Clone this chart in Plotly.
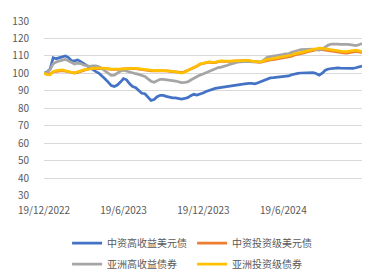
import plotly.graph_objects as go
import pandas as pd

start_date = "2022-12-19"
n_weeks = 105
dates = pd.date_range(start_date, periods=n_weeks, freq="7D")

series_names = ["中资高收益美元债", "中资投资级美元债", "亚洲高收益债券", "亚洲投资级债券"]
series_colors = ["#4472C4", "#ED7D31", "#A5A5A5", "#FFC000"]

cn_hy = [100, 100.8, 102.5, 109, 108.4, 109, 109.5, 110, 109, 107.2,
         107.2, 107.7, 106.7, 105.5, 104.3, 103, 102, 101, 100, 98.6,
         96.8, 95, 93, 92.5, 93.3, 95, 97, 96.3, 94, 92.5,
         91.8, 90.2, 88.6, 88.3, 86.3, 84.5, 85, 86.6, 87.4, 87.4,
         86.8, 86.2, 86, 85.9, 85.5, 85.3, 85.6, 86.1, 87.2, 88,
         87.6, 88, 88.7, 89.6, 90.3, 90.8, 91.4, 91.7, 92, 92.3,
         92.7, 93, 93.4, 93.5, 93.6, 93.8, 94.2, 94.3, 94.2, 94,
         94.6, 95.3, 96.2, 97, 97.4, 97.5, 97.7, 98, 98.1, 98.3,
         98.5, 99.2, 99.7, 100, 100.2, 100.3, 100.5, 100.3, 100.4, 99.9,
         99, 100.1, 101.8, 102.5, 102.8, 103, 103.1, 103, 102.9, 102.8,
         102.6, 102.8, 103.2, 103.7, 104.2]

cn_ig = [100, 99.6, 99.8, 100.8, 101.2, 101.4, 101.5, 101.3, 100.9, 100.4,
         100.2, 100.6, 101.3, 101.9, 102.3, 102.7, 102.8, 102.9, 103, 102.9,
         102.7, 102.4, 102.3, 102.3, 102.2, 102.3, 102.5, 102.7, 102.7, 102.8,
         102.7, 102.4, 102.0, 101.8, 101.6, 101.4, 101.4, 101.5, 101.5, 101.5,
         101.4, 101.2, 101.0, 100.8, 100.6, 100.5, 100.9, 101.7, 102.3, 103.1,
         104.1, 105.2, 105.7, 106.1, 106.4, 106.2, 106.1, 106.7, 107.0, 106.8,
         106.6, 106.8, 107.0, 107.1, 107.3, 107.4, 107.5, 107.3, 106.8, 106.4,
         106.4, 106.4, 106.9, 107.5, 107.7, 107.9, 108.2, 108.5, 108.6, 108.9,
         109.2, 109.9, 110.6, 110.9, 111.3, 111.7, 112.3, 112.6, 113.0, 113.4,
         113.8, 113.6, 113.3, 112.9, 112.5, 112.2, 112.0, 111.8, 111.7, 111.6,
         111.8, 112.4, 112.6, 112.3, 111.9]

asia_hy = [100, 100.5, 102.2, 105.5, 106.5, 107.2, 107.6, 108, 107.2, 106.2,
           105.4, 105.8, 105.6, 104.8, 104.4, 104, 104.3, 104.3, 103.8, 102.6,
           101.6, 100, 98.8, 99, 100.1, 101.3, 101.8, 101.2, 100.8, 100.4,
           99.8, 99.4, 99, 98.2, 96.8, 95.5, 94.9, 96, 96.6, 96.5,
           96.4, 96.1, 95.8, 95.6, 95.2, 94.7, 94.8, 95.1, 96.2, 97.3,
           98.1, 99, 99.6, 100.4, 101.1, 101.8, 102.6, 103.3, 103.6, 104,
           104.6, 105.3, 105.9, 106.3, 106.6, 106.8, 107, 106.8, 106.6, 106.6,
           106.5, 106.6, 107.8, 109.2, 109.6, 110, 110.3, 110.5, 110.8, 111.1,
           111.2, 112, 112.7, 113.1, 113.6, 113.7, 113.9, 114.1, 113.9, 113.6,
           113.3, 114, 115.3, 116.2, 116.8, 116.9, 116.8, 116.6, 116.8, 116.6,
           116.4, 116, 115.9, 116.4, 117.1]

asia_ig = [100, 99.3, 99.2, 101, 101.6, 101.8, 102, 101.5, 100.9, 100.5,
           100.3, 100.7, 101.4, 102, 102.4, 102.8, 102.9, 103, 103.1, 103,
           102.8, 102.5, 102.4, 102.4, 102.3, 102.4, 102.6, 102.8, 102.8, 102.9,
           102.8, 102.6, 102.2, 102, 101.8, 101.6, 101.6, 101.7, 101.7, 101.7,
           101.6, 101.4, 101.2, 101, 100.6, 100.1, 100.6, 101.6, 102.4, 103.3,
           104.3, 105.4, 105.9, 106.3, 106.6, 106.4, 106.3, 106.9, 107.2, 107,
           106.8, 107, 107.2, 107.3, 107.5, 107.6, 107.7, 107.5, 107, 106.6,
           106.6, 106.6, 107.3, 108, 108.2, 108.5, 108.8, 109.1, 109.2, 109.5,
           109.8, 110.5, 111.2, 111.5, 111.9, 112.3, 112.9, 113.2, 113.6, 114,
           114.5, 114.3, 114, 113.6, 113.3, 113, 112.8, 112.6, 112.5, 112.4,
           112.6, 113.2, 113.3, 112.9, 112.4]

series_values = [cn_hy, cn_ig, asia_hy, asia_ig]
legend_ids = ["legend", "legend", "legend2", "legend2"]

x_tick_dates = ["2022-12-19", "2023-06-19", "2023-12-19", "2024-06-19"]
x_tick_labels = ["19/12/2022", "19/6/2023", "19/12/2023", "19/6/2024"]
y_ticks = list(range(30, 131, 10))

FONT = "Noto Sans CJK SC, Noto Sans, sans-serif"
TXT = "#595959"

fig = go.Figure()
for name, color, vals, lg in zip(series_names, series_colors, series_values, legend_ids):
    fig.add_trace(go.Scatter(x=dates, y=vals, mode="lines", name=name,
                             line=dict(color=color, width=2.75), legend=lg))

legend_common = dict(orientation="h", xref="container", yref="container",
                     x=0.177, xanchor="left", yanchor="middle",
                     font=dict(family=FONT, size=10, color=TXT),
                     entrywidth=80, entrywidthmode="pixels",
                     bgcolor="rgba(0,0,0,0)", traceorder="normal")

fig.update_layout(
    width=379, height=280,
    margin=dict(l=41, r=17, t=15, b=73),
    paper_bgcolor="white", plot_bgcolor="white",
    font=dict(family=FONT, size=10, color=TXT),
    legend=dict(**legend_common, y=1 - 243 / 280),
    legend2=dict(**legend_common, y=1 - 264 / 280),
    xaxis=dict(range=[dates[0], dates[-1]], tickvals=x_tick_dates, ticktext=x_tick_labels,
               showgrid=False, zeroline=False, showline=False,
               ticks="outside", ticklen=5, tickcolor="rgba(0,0,0,0)",
               tickfont=dict(family=FONT, size=10, color=TXT)),
    yaxis=dict(range=[30, 130], tickvals=y_ticks, showgrid=True, gridcolor="#D9D9D9",
               gridwidth=1, zeroline=False, showline=False,
               ticks="outside", ticklen=12, tickcolor="rgba(0,0,0,0)",
               tickfont=dict(family=FONT, size=10, color=TXT)),
)

fig.write_html("out.html")
